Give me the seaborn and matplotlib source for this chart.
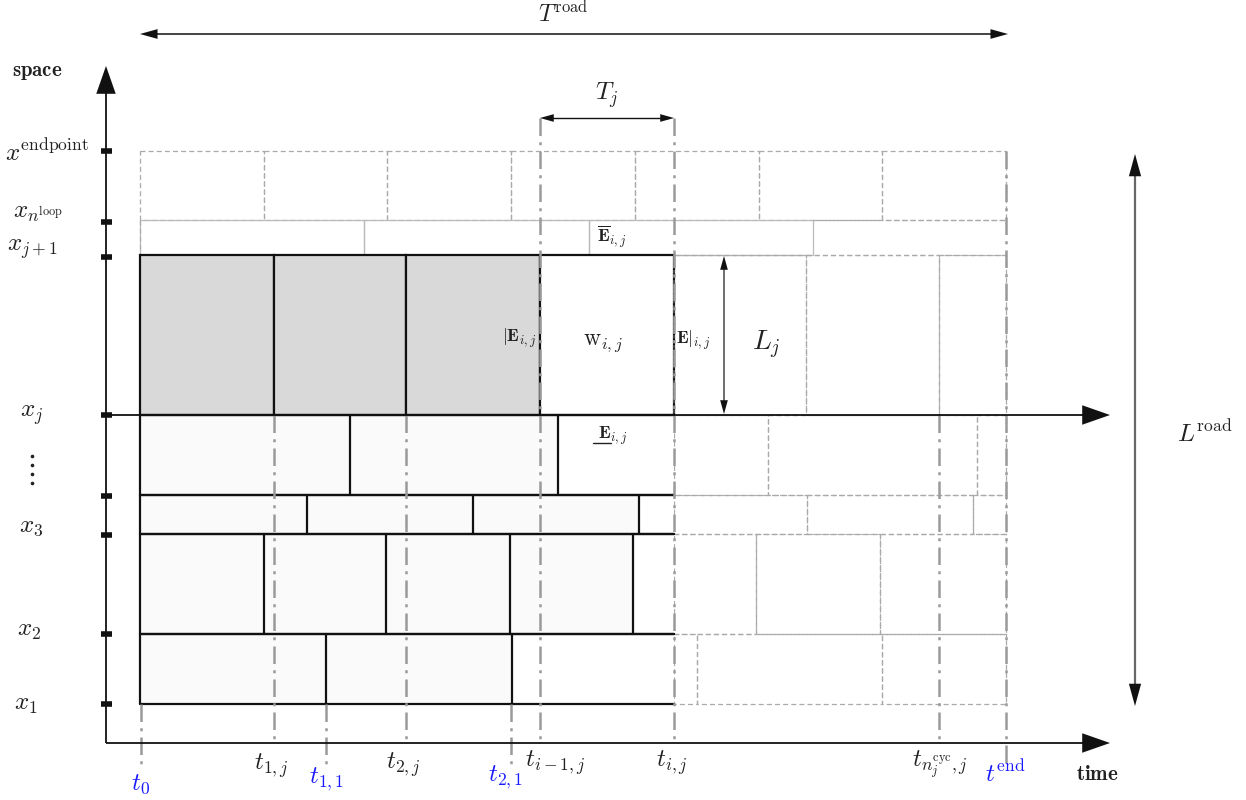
import numpy as np
import pandas as pd
import matplotlib
matplotlib.use("Agg")
import matplotlib.pyplot as plt
import seaborn as sns
from matplotlib.patches import Rectangle, FancyArrowPatch

sns.set_theme(style="white")
plt.rcParams['mathtext.fontset'] = 'cm'
plt.rcParams['font.family'] = ['DejaVu Serif']

# ---------------- data (diagram coordinates) ----------------
# space axis ticks and labels
space_ticks = [151, 222, 257, 415, 496, 535, 634, 704]
space_label_text = [r"$x^{\mathrm{endpoint}}$", r"$x_{n^{\mathrm{loop}}}$", r"$x_{j+1}$",
                    r"$x_j$", r"$x_3$", r"$x_2$", r"$x_1$"]
space_label_pos = [(47, 152), (38, 214), (32, 249), (32, 415), (31, 527), (29, 631), (26, 705)]

# time guide lines: (x, y_start, y_end)
guide_x = [141, 274, 326, 406, 511, 540, 674, 939, 1006]
guide_y0 = [704, 415, 704, 415, 704, 118, 118, 415, 151]
guide_y1 = [768, 743, 765, 743, 765, 743, 743, 743, 768]
time_labels = [r"$t_0$", r"$t_{1,j}$", r"$t_{1,1}$", r"$t_{2,j}$", r"$t_{2,1}$",
               r"$t_{i-1,j}$", r"$t_{i,j}$", r"$t_{n_j^{\mathrm{cyc}},j}$", r"$t^{\mathrm{end}}$"]
time_label_pos = [(141, 784), (271, 766), (327, 779), (403, 765), (506, 777),
                  (555, 763), (672, 763), (940, 765), (1005, 773)]
time_label_blue = [True, False, True, False, True, False, False, False, True]

# cell j (current link): completed (gray), current, future
row_j = (255, 415)
row_j_done = [140, 274, 406, 540]
row_j_current = [540, 674]
row_j_future = [674, 806, 939, 1006]

# lower links: (top, bottom, realised edges, future edges)
lower_rows = [
    (415, 495, [140, 350, 558, 674], [674, 768, 977, 1006]),
    (495, 534, [140, 307, 473, 639, 674], [674, 807, 973, 1006]),
    (534, 634, [140, 264, 386, 510, 633, 674], [674, 756, 880, 1006]),
    (634, 704, [140, 326, 512, 674], [674, 697, 882, 1006]),
]
# upper links
top_row = (151, 220, [140, 264, 387, 511, 635, 759, 882, 1006])
loop_row = (220, 255, [140, 364, 589, 813], 1006)

# ---------------- figure ----------------
fig = plt.figure(figsize=(12.46, 8.0), dpi=100)
ax = fig.add_axes([0, 0, 1, 1])

BLACK = "#111111"
TXT = "#222222"
BLUE = "#1a1aff"
DASHG = "#aaaaaa"
GUIDE = "#9a9a9a"
dash = (0, (4, 2.5))

def dashed_rect(x0, x1, y0, y1, lw=0.9, color=DASHG, ls=dash, z=1):
    ax.add_patch(Rectangle((x0, y0), x1 - x0, y1 - y0, fill=False,
                           edgecolor=color, lw=lw, linestyle=ls, zorder=z))

# guide lines (dash-dot) via seaborn
gd = pd.DataFrame({
    "x": [v for v in guide_x for _ in range(2)],
    "y": [v for pair in zip(guide_y0, guide_y1) for v in pair],
    "id": [i for i in range(len(guide_x)) for _ in range(2)],
})
sns.lineplot(data=gd, x="x", y="y", units="id", estimator=None, sort=False,
             color=GUIDE, lw=1.8, ax=ax, zorder=4, legend=False,
             linestyle=(0, (7, 2.5, 1.2, 2.5)))
ax.set_xlim(0, 1246)
ax.set_ylim(800, 0)
ax.axis("off")

# top dashed row
t0, t1, edges = top_row
for a, b in zip(edges[:-1], edges[1:]):
    dashed_rect(a, b, t0, t1)

# loop row
l0, l1, ledges, lend = loop_row
for a, b in zip(ledges[:-1], ledges[1:]):
    ax.add_patch(Rectangle((a, l0), b - a, l1 - l0, fill=False, edgecolor="#bbbbbb",
                           lw=0.9, zorder=1))
ax.plot([140, 140], [l0, l1], color=DASHG, lw=0.9, ls=dash, zorder=1)
ax.plot([ledges[-1], lend], [l0, l0], color=DASHG, lw=0.9, ls=dash, zorder=1)
ax.plot([140, lend], [l1, l1], color=DASHG, lw=0.9, ls=dash, zorder=1)

# row j
y0, y1 = row_j
for a, b in zip(row_j_done[:-1], row_j_done[1:]):
    ax.add_patch(Rectangle((a, y0), b - a, y1 - y0, facecolor="#d9d9d9",
                           edgecolor=BLACK, lw=1.6, zorder=2))
ax.add_patch(Rectangle((row_j_current[0], y0), row_j_current[1] - row_j_current[0], y1 - y0,
                       facecolor="white", edgecolor=BLACK, lw=1.6, zorder=2))
ax.plot([row_j_current[1]] * 2, [y0, y1], color="#555555", lw=1.2, ls=(0, (2, 1)), zorder=3)
for a, b in zip(row_j_future[:-1], row_j_future[1:]):
    dashed_rect(a, b, y0, y1)

# lower rows
for top, bot, sol, fut in lower_rows:
    for k, (a, b) in enumerate(zip(sol[:-1], sol[1:])):
        last = k == len(sol) - 2
        ax.add_patch(Rectangle((a, top), b - a, bot - top,
                               facecolor="white" if last else "#fafafa",
                               edgecolor="none", zorder=1.5))
        ax.plot([a, a], [top, bot], color=BLACK, lw=1.6, zorder=2)
    ax.plot([sol[0], sol[-1]], [top, top], color=BLACK, lw=1.6, zorder=2)
    ax.plot([sol[0], sol[-1]], [bot, bot], color=BLACK, lw=1.6, zorder=2)
    for a, b in zip(fut[:-1], fut[1:]):
        dashed_rect(a, b, top, bot)

# arrows
def head(p0, p1, color=BLACK, hw=0.28, hl=1.0, ms=22, z=6):
    ax.add_patch(FancyArrowPatch(p0, p1, arrowstyle=f"-|>,head_width={hw},head_length={hl}",
                                 mutation_scale=ms, color=color, lw=0.01, zorder=z,
                                 shrinkA=0, shrinkB=0))

def line(p0, p1, color=BLACK, lw=1.3, z=5):
    ax.plot([p0[0], p1[0]], [p0[1], p1[1]], color=color, lw=lw, zorder=z,
            solid_capstyle="butt")

# space axis
line((106, 743), (106, 80))
head((106, 95), (106, 66), hw=0.35, hl=1.0, ms=20)
# time axis
line((106, 743), (1092, 743))
head((1080, 743), (1110, 743), hw=0.35, hl=1.0, ms=20)
# x_j axis
line((106, 415), (1092, 415))
head((1080, 415), (1110, 415), hw=0.35, hl=1.0, ms=20)
# L^road
line((1135, 166), (1135, 694), color="#666666", lw=1.6)
head((1135, 180), (1135, 154), hw=0.22, hl=0.8, ms=20)
head((1135, 680), (1135, 706), hw=0.22, hl=0.8, ms=20)
# T^road
line((150, 34), (998, 34), lw=1.1)
head((160, 34), (140, 34), hw=0.25, hl=0.9, ms=14)
head((988, 34), (1008, 34), hw=0.25, hl=0.9, ms=14)
# T_j
line((546, 118), (668, 118), lw=1.0)
head((555, 118), (540, 118), hw=0.25, hl=0.9, ms=11)
head((659, 118), (674, 118), hw=0.25, hl=0.9, ms=11)
# L_j
line((724, 262), (724, 408), color="#555555", lw=1.2)
head((724, 272), (724, 256), hw=0.25, hl=0.9, ms=11)
head((724, 398), (724, 414), hw=0.25, hl=0.9, ms=11)

# tick marks
for yv in space_ticks:
    ax.plot([101, 112], [yv, yv], color=BLACK, lw=4, solid_capstyle="butt", zorder=6)

# labels
FS = 18
ax.text(37, 72, r"$\mathbf{space}$", fontsize=15, ha="center", va="center", color=TXT)
ax.text(1097, 775, r"$\mathbf{time}$", fontsize=15, ha="center", va="center", color=TXT)
for s, (x, y) in zip(space_label_text, space_label_pos):
    ax.text(x, y, s, fontsize=FS, ha="center", va="center", color=TXT)
for yv in [456, 465, 474, 483]:
    ax.plot([32], [yv], marker="o", ms=1.6, color=TXT)
for s, (x, y), b in zip(time_labels, time_label_pos, time_label_blue):
    ax.text(x, y, s, fontsize=FS, ha="center", va="center", color=BLUE if b else TXT)

ax.text(563, 2, r"$T^{\mathrm{road}}$", fontsize=17, ha="center", va="top", color=TXT)
ax.text(607, 95, r"$T_j$", fontsize=FS, ha="center", va="center", color=TXT)
ax.text(1205, 433, r"$L^{\mathrm{road}}$", fontsize=FS, ha="center", va="center", color=TXT)
ax.text(766, 345, r"$L_j$", fontsize=20, ha="center", va="center", color=TXT)
ax.text(603, 343, r"$\mathrm{w}_{i,j}$", fontsize=17, ha="center", va="center", color=TXT)
ax.text(519, 338, r"$|\mathbf{E}_{i,j}$", fontsize=13, ha="center", va="center", color=TXT)
ax.text(693, 340, r"$\mathbf{E}|_{i,j}$", fontsize=13, ha="center", va="center", color=TXT)
ax.text(612, 237, r"$\overline{\mathbf{E}}_{i,j}$", fontsize=13, ha="center", va="center", color=TXT)
ax.text(613, 436, r"$\mathbf{E}_{i,j}$", fontsize=13, ha="center", va="center", color=TXT)
ax.plot([593, 611], [443, 443], color=TXT, lw=1.0)

fig.savefig("out.png", dpi=100)
